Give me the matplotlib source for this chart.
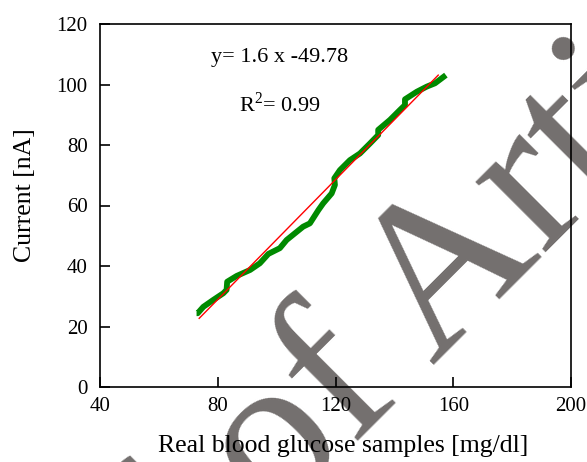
import matplotlib
matplotlib.use("Agg")
import matplotlib.pyplot as plt

# Measured current vs. reference glucose concentration
glucose = [72.8, 73.2, 75.1, 78.5, 81.9, 83.0, 83.2, 86.4, 91.0, 94.3, 97.2,
           101.1, 103.4, 109.0, 111.3, 114.2, 115.8, 118.7, 119.8, 119.6,
           121.5, 124.9, 128.3, 131.7, 134.5, 134.5, 138.5, 141.9, 143.6,
           143.6, 147.6, 151.0, 153.8, 156.0, 157.5]
current = [24.4, 24.4, 26.5, 28.8, 31.0, 32.1, 34.8, 36.7, 38.7, 40.9, 44.0,
           45.9, 48.6, 53.0, 54.1, 58.5, 60.7, 64.0, 66.8, 69.0,
           71.7, 75.0, 77.2, 80.5, 83.3, 85.0, 88.3, 91.6, 93.2,
           95.1, 97.6, 99.3, 100.4, 102.0, 103.1]

# Linear fit drawn across the measured range
fit_x = [73.7, 154.9]
fit_y = [22.7, 103.1]

fit_equation = "y= 1.6 x -49.78"
fit_r2 = r"R$^{2}$= 0.99"

xticks = [40, 80, 120, 160, 200]
yticks = [0, 20, 40, 60, 80, 100, 120]

plt.rcParams["font.family"] = ["Liberation Serif", "DejaVu Serif"]
plt.rcParams["mathtext.fontset"] = "custom"
plt.rcParams["mathtext.rm"] = "Liberation Serif"

W, H = 587, 462
fig = plt.figure(figsize=(W / 100, H / 100), dpi=100)

# Grey watermark behind the plot
wm_x, wm_y = -103, 902
fig.text(wm_x / W, 1 - wm_y / H, "Proof of Article", rotation=45,
         rotation_mode="anchor", ha="left", va="baseline",
         fontsize=156, color="#736f6e", zorder=0)

ax = fig.add_axes([100 / W, 1 - 387 / H, 471 / W, 363 / H], zorder=1)
ax.patch.set_alpha(0)

ax.plot(glucose, current, color="#008a00", lw=4.2,
        solid_capstyle="butt", solid_joinstyle="round", zorder=2)
ax.plot(fit_x, fit_y, color="#ff0000", lw=1.0, zorder=3)

ax.set_xlim(40, 200)
ax.set_ylim(0, 120)
ax.set_xticks(xticks)
ax.set_yticks(yticks)
ax.tick_params(direction="in", length=7, width=1.2, labelsize=15,
               top=False, right=False)
ax.tick_params(axis="y", pad=9)
ax.tick_params(axis="x", pad=7)
for s in ax.spines.values():
    s.set_linewidth(1.2)

ax.set_xlabel("Real blood glucose samples [mg/dl]", fontsize=18.5, va="center")
ax.set_ylabel("Current [nA]", fontsize=18.5, va="center")
ax.xaxis.set_label_coords(0.516, -0.163)
ax.yaxis.set_label_coords(-0.159, 0.529)

ax.text(0.382, 0.909, fit_equation, transform=ax.transAxes,
        ha="center", va="center", fontsize=16)
ax.text(0.382, 0.777, fit_r2, transform=ax.transAxes,
        ha="center", va="center", fontsize=16)

fig.savefig("out.png", dpi=100)
